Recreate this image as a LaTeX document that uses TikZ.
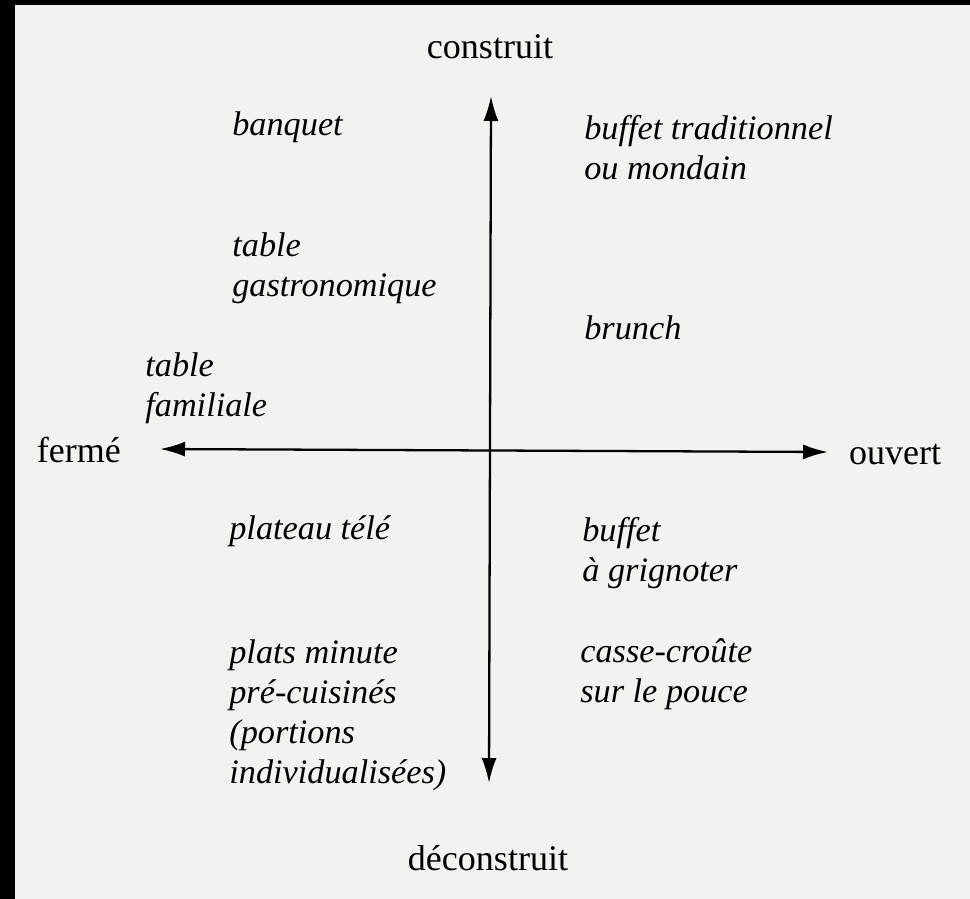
\documentclass[tikz,border=0pt]{standalone}
\usepackage{fontspec}
\setmainfont{Liberation Serif}[ItalicFont={Liberation Serif Italic}]
\usepackage{xcolor}
\usetikzlibrary{positioning,calc,arrows.meta}

\definecolor{papier}{HTML}{F2F2F1}

\begin{document}
\begin{tikzpicture}[x=0.02cm,y=-0.02cm,
        pole/.style={font=\fontsize{20.5}{24}\selectfont},
        plat/.style={font=\fontsize{19.5}{22.7}\selectfont\itshape, align=left, anchor=west, inner sep=0pt},
        axe/.style={line width=1.3pt, {Latex[length=5mm,width=3mm]}-{Latex[length=5mm,width=3mm]}}]
        % fond de la page
        \fill[papier] (0,0) rectangle (970,899);
        \fill[black] (0,0) rectangle (15,899);
        \fill[black] (0,0) rectangle (970,5);
        \useasboundingbox (0,0) rectangle (970,899);
        % axes
        \coordinate (haut) at (491,96);
        \coordinate (bas) at (489,783);
        \coordinate (gauche) at (160,449);
        \coordinate (droite) at (828,452);
        \draw[axe] (haut) -- (bas);
        \draw[axe] (gauche) -- (droite);
        \node[pole] (construit) at (490,47) {construit};
        \node[pole] (deconstruit) at (488,858) {déconstruit};
        \node[pole, anchor=east] (ferme) at (127,450) {fermé};
        \node[pole, anchor=west] (ouvert) at (843,455) {ouvert};
        % formules
        \node[plat] (banquet) at (232,127) {banquet};
        \node[plat] (buffettrad) at (584,148) {buffet traditionnel\\ou mondain};
        \node[plat] (gastro) at (232,268) {table\\gastronomique};
        \node[plat] (brunch) at (584,328) {brunch};
        \node[plat] (familiale) at (145,388) {table\\familiale};
        \node[plat] (plateau) at (229,531) {plateau télé};
        \node[plat] (grignoter) at (582,553) {buffet\\à grignoter};
        \node[plat] (minute) at (229,715) {plats minute\\pré-cuisinés\\(portions\\individualisées)};
        \node[plat] (cassecroute) at (580,674) {casse-croûte\\sur le pouce};
    \end{tikzpicture}
\end{document}
